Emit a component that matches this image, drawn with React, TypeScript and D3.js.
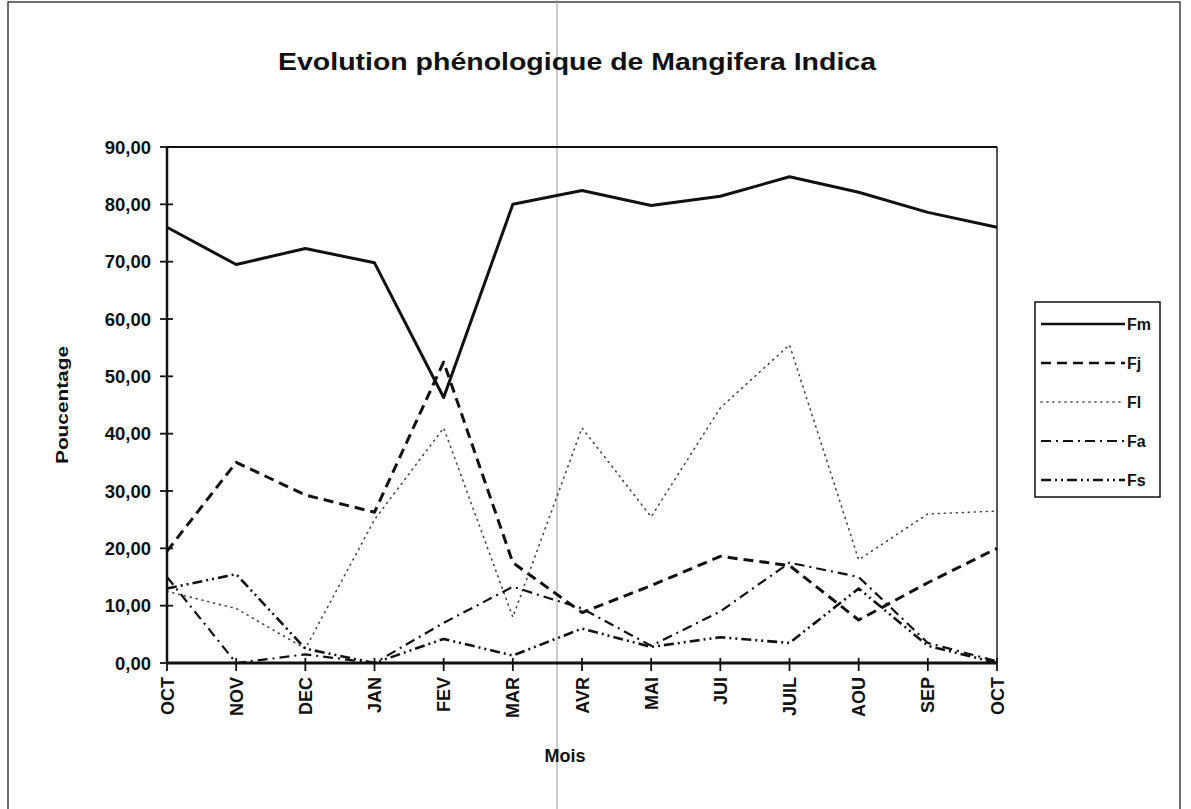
import React from "react";
import * as d3 from "d3";

const months = ["OCT", "NOV", "DEC", "JAN", "FEV", "MAR", "AVR", "MAI", "JUI", "JUIL", "AOU", "SEP", "OCT"];
const fm = [76, 69.5, 72.3, 69.8, 46.3, 80, 82.4, 79.8, 81.4, 84.8, 82.1, 78.6, 76];
const fj = [19.5, 35, 29.3, 26.3, 52.5, 17.5, 8.8, 13.5, 18.6, 17, 7.5, 14, 20];
const fl = [12.5, 9.5, 2.5, 25, 41, 8, 41, 25.5, 44.5, 55.5, 18, 26, 26.5];
const fa = [15, 0, 1.5, 0, 7, 13.3, 9.5, 3, 9, 17.5, 15, 3.5, 0.3];
const fs = [13, 15.5, 2.5, 0, 4.2, 1.3, 6, 2.8, 4.5, 3.5, 13, 3, 0];
const yTicks = [0, 10, 20, 30, 40, 50, 60, 70, 80, 90];
const seriesNames = ["Fm", "Fj", "Fl", "Fa", "Fs"];

const FONT = "'Liberation Sans', Arial, sans-serif";

export default function App() {
  const left = 167, right = 997, top = 147, bottom = 663;
  const x = d3.scalePoint<number>().domain(d3.range(months.length)).range([left, right]).padding(0);
  const y = d3.scaleLinear().domain([0, 90]).range([bottom, top]);
  const line = d3.line<number>().x((_, i) => x(i) as number).y((d) => y(d));

  const styles = [
    { data: fm, dash: "none", w: 3, color: "#111" },
    { data: fj, dash: "10,6", w: 3, color: "#111" },
    { data: fl, dash: "1,5", w: 1.6, color: "#444", cap: "round" },
    { data: fa, dash: "10,5,2,5", w: 2.2, color: "#111" },
    { data: fs, dash: "10,4,2,4,2,4", w: 2.6, color: "#111" },
  ];

  const legX = 1035, legY = 302, legW = 125, legH = 195;
  const legRowY = (i: number) => legY + 22 + i * 39;

  return (
    <svg
      width={1191}
      height={809}
      style={{ position: "absolute", left: 0, top: 0, display: "block", background: "#fff" }}
      fontFamily={FONT}
    >
      <rect x={0} y={0} width={1191} height={809} fill="#fff" />
      {/* outer chart frame */}
      <rect x={8} y={2} width={1172} height={830} fill="none" stroke="#222" strokeWidth={1.3} />
      {/* scan fold line */}
      <line x1={557} x2={557} y1={0} y2={809} stroke="#999" strokeWidth={1} />

      {/* title */}
      <text x={577} y={70} textAnchor="middle" fontSize={24} fontWeight="bold" fill="#111"
        textLength={598} lengthAdjust="spacingAndGlyphs">
        Evolution phénologique de Mangifera Indica
      </text>

      {/* plot border */}
      <line x1={left} x2={right} y1={top} y2={top} stroke="#111" strokeWidth={2.2} />
      <line x1={right} x2={right} y1={top} y2={bottom} stroke="#111" strokeWidth={1.4} />

      {/* series */}
      {styles.map((s, i) => (
        <path key={i} d={line(s.data) || ""} fill="none" stroke={s.color} strokeWidth={s.w}
          strokeDasharray={s.dash} strokeLinecap={(s as any).cap || "butt"} strokeLinejoin="round" />
      ))}

      {/* y axis */}
      <line x1={left} x2={left} y1={top} y2={bottom} stroke="#111" strokeWidth={2.5} />
      {yTicks.map((t) => (
        <g key={t}>
          <line x1={left - 7} x2={left + 6} y1={y(t)} y2={y(t)} stroke="#111" strokeWidth={1.8} />
          <text x={151} y={y(t) + 6.5} textAnchor="end" fontSize={18.5} fontWeight="bold" fill="#111">
            {d3.format(".2f")(t).replace(".", ",")}
          </text>
        </g>
      ))}

      {/* x axis */}
      <line x1={left} x2={right} y1={bottom} y2={bottom} stroke="#111" strokeWidth={2.8} />
      {months.map((m, i) => (
        <g key={i}>
          <line x1={x(i)} x2={x(i)} y1={bottom - 5} y2={bottom + 8} stroke="#111" strokeWidth={1.8} />
          <text transform={`translate(${(x(i) as number) + 6.5},${bottom + 14}) rotate(-90)`}
            textAnchor="end" fontSize={18} fontWeight="bold" fill="#111">
            {m}
          </text>
        </g>
      ))}

      {/* axis titles */}
      <text x={565} y={762} textAnchor="middle" fontSize={18} fontWeight="bold" fill="#111">Mois</text>
      <text transform={`translate(68,405) rotate(-90)`} textAnchor="middle" fontSize={17} fontWeight="bold" fill="#111"
        textLength={118} lengthAdjust="spacingAndGlyphs">
        Poucentage
      </text>

      {/* legend */}
      <rect x={legX} y={legY} width={legW} height={legH} fill="#fff" stroke="#111" strokeWidth={1.5} />
      {styles.map((s, i) => (
        <g key={i}>
          <line x1={legX + 6} x2={legX + 90} y1={legRowY(i)} y2={legRowY(i)} stroke={s.color}
            strokeWidth={Math.min(s.w, 2.6)} strokeDasharray={s.dash} strokeLinecap={(s as any).cap || "butt"} />
          <text x={legX + 92} y={legRowY(i) + 6} fontSize={16} fontWeight="bold" fill="#111">
            {seriesNames[i]}
          </text>
        </g>
      ))}
    </svg>
  );
}
